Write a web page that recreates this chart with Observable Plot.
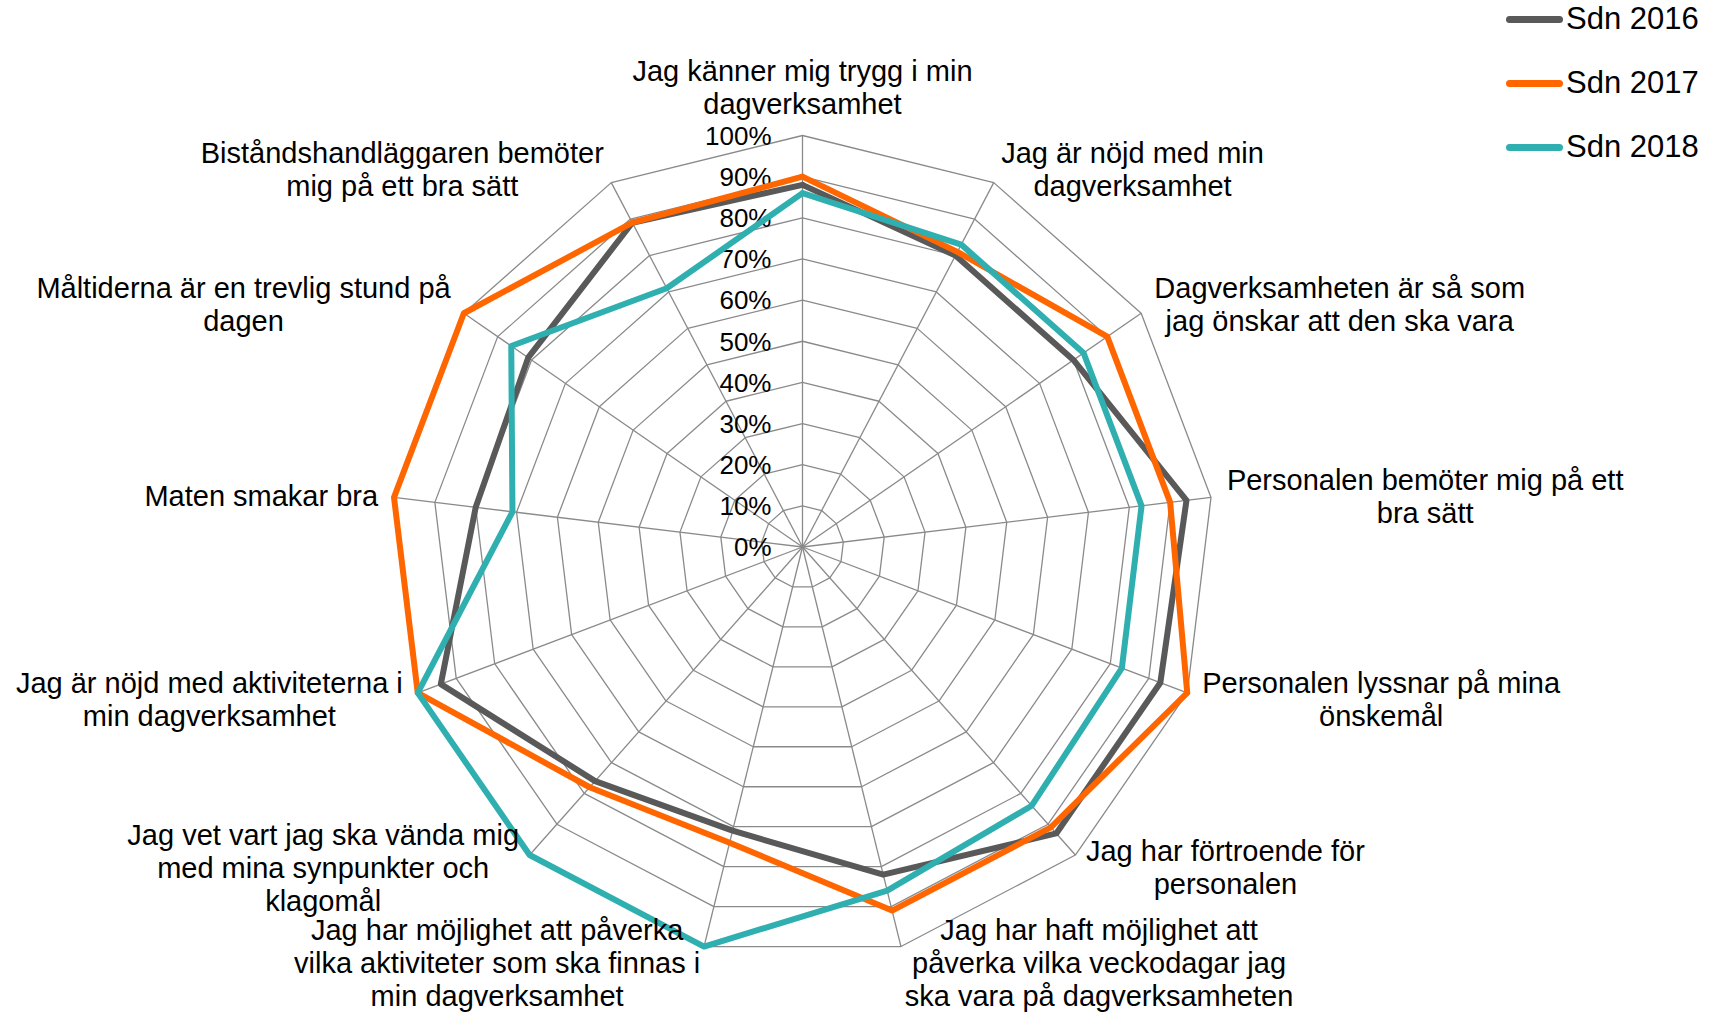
<!DOCTYPE html>
<html><head><meta charset="utf-8">
<script src="https://cdn.jsdelivr.net/npm/d3@7"></script>
<script src="https://cdn.jsdelivr.net/npm/@observablehq/plot@0.6"></script>
<style>
html,body{margin:0;padding:0;background:#fff;overflow:hidden;}
#wrap{position:relative;width:1723px;height:1012px;font-family:'Liberation Sans',Arial,sans-serif;}
#legend{position:absolute;left:1506px;top:0;}
.item{position:absolute;left:0;display:flex;align-items:center;height:40px;white-space:nowrap;font-size:31px;color:#000;}
.swatch{width:57px;height:7px;border-radius:4px;margin-right:3px;}
</style></head><body><div id="wrap"><div id="chart"></div><div id="legend"></div></div>
<script>
const categories = [
  "Jag känner mig trygg i min\ndagverksamhet",
  "Jag är nöjd med min\ndagverksamhet",
  "Dagverksamheten är så som\njag önskar att den ska vara",
  "Personalen bemöter mig på ett\nbra sätt",
  "Personalen lyssnar på mina\nönskemål",
  "Jag har förtroende för\npersonalen",
  "Jag har haft möjlighet att\npåverka vilka veckodagar jag\nska vara på dagverksamheten",
  "Jag har möjlighet att påverka\nvilka aktiviteter som ska finnas i\nmin dagverksamhet",
  "Jag vet vart jag ska vända mig\nmed mina synpunkter och\nklagomål",
  "Jag är nöjd med aktiviteterna i\nmin dagverksamhet",
  "Maten smakar bra",
  "Måltiderna är en trevlig stund på\ndagen",
  "Biståndshandläggaren bemöter\nmig på ett bra sätt"
];
const seriesNames = ["Sdn 2016", "Sdn 2017", "Sdn 2018"];
const seriesColors = ["#595959", "#FF6600", "#2FAFAF"];
const sdn2016 = [0.88, 0.80, 0.80, 0.94, 0.93, 0.93, 0.82, 0.71, 0.76, 0.94, 0.80, 0.81, 0.89];
const sdn2017 = [0.90, 0.81, 0.90, 0.90, 1.00, 0.91, 0.91, 0.74, 0.78, 1.00, 1.00, 1.00, 0.89];
const sdn2018 = [0.86, 0.83, 0.83, 0.83, 0.83, 0.84, 0.86, 1.00, 1.00, 1.00, 0.71, 0.86, 0.71];
const tickValues = [0, 0.1, 0.2, 0.3, 0.4, 0.5, 0.6, 0.7, 0.8, 0.9, 1.0];
const tickLabels = ["0%", "10%", "20%", "30%", "40%", "50%", "60%", "70%", "80%", "90%", "100%"];

const seriesValues = [sdn2016, sdn2017, sdn2018];
const W = 1723, H = 1012, CX = 802, CY = 546.5, R = 411.5;
const FONT = "'Liberation Sans', Arial, sans-serif";
const labelSize = 29, lineH = 33, tickSize = 26;
const n = categories.length;
const angle = i => 2 * Math.PI * i / n;
const pt = (i, r) => ({x: r * Math.sin(angle(i)), y: r * Math.cos(angle(i))});

const rings = [];
tickValues.slice(1).forEach(v => {
  for (let i = 0; i <= n; i++) rings.push({level: v, ...pt(i % n, v)});
});
const spokes = categories.map((c, i) => ({x1: 0, y1: 0, x2: pt(i, 1).x, y2: pt(i, 1).y}));
const seriesRows = seriesNames.map((s, k) => {
  const rows = [];
  for (let i = 0; i <= n; i++) rows.push({series: s, ...pt(i % n, seriesValues[k][i % n])});
  return rows;
});

const ctx = document.createElement("canvas").getContext("2d");
ctx.font = `${labelSize}px ${FONT}`;
const gap = 16 / R;
const labelRows = categories.map((c, i) => {
  const lines = c.split("\n");
  const wpx = Math.max(...lines.map(l => ctx.measureText(l).width));
  const hpx = lines.length * lineH;
  const dx = Math.sin(angle(i)), dy = Math.cos(angle(i));
  let x = (1 + gap) * dx, y = (1 + gap) * dy;
  if (Math.abs(dx) < 0.1) y += Math.sign(dy) * (hpx / 2) / R;
  else x += Math.sign(dx) * (wpx / 2) / R;
  return {x, y, text: c};
});

const chart = Plot.plot({
  width: W, height: H, margin: 0,
  style: {fontFamily: FONT, background: "#fff"},
  x: {domain: [-CX / R, (W - CX) / R], axis: null},
  y: {domain: [-(H - CY) / R, CY / R], axis: null},
  marks: [
    Plot.line(rings, {x: "x", y: "y", z: "level", stroke: "#8a8a8a", strokeWidth: 1.3}),
    Plot.link(spokes, {x1: "x1", y1: "y1", x2: "x2", y2: "y2", stroke: "#8a8a8a", strokeWidth: 1.3}),
    Plot.text(tickValues, {x: 0, y: d => d, text: (d, i) => tickLabels[i], textAnchor: "end", dx: -31, dy: 1, lineAnchor: "middle", fontSize: tickSize, fill: "#000"}),
    ...seriesRows.map((rows, k) => Plot.line(rows, {x: "x", y: "y", stroke: seriesColors[k], strokeWidth: 6, strokeLinejoin: "round"})),
    Plot.text(labelRows, {x: "x", y: "y", text: "text", textAnchor: "middle", lineAnchor: "middle", lineHeight: lineH / labelSize, fontSize: labelSize, fill: "#000"})
  ]
});
document.getElementById("chart").appendChild(chart);

const legend = document.getElementById("legend");
seriesNames.forEach((s, k) => {
  const item = document.createElement("div");
  item.className = "item";
  item.style.top = (19 + k * 64 - 20) + "px";
  const sw = document.createElement("div");
  sw.className = "swatch";
  sw.style.background = seriesColors[k];
  const t = document.createElement("span");
  t.textContent = s;
  item.appendChild(sw); item.appendChild(t);
  legend.appendChild(item);
});
</script></body></html>
